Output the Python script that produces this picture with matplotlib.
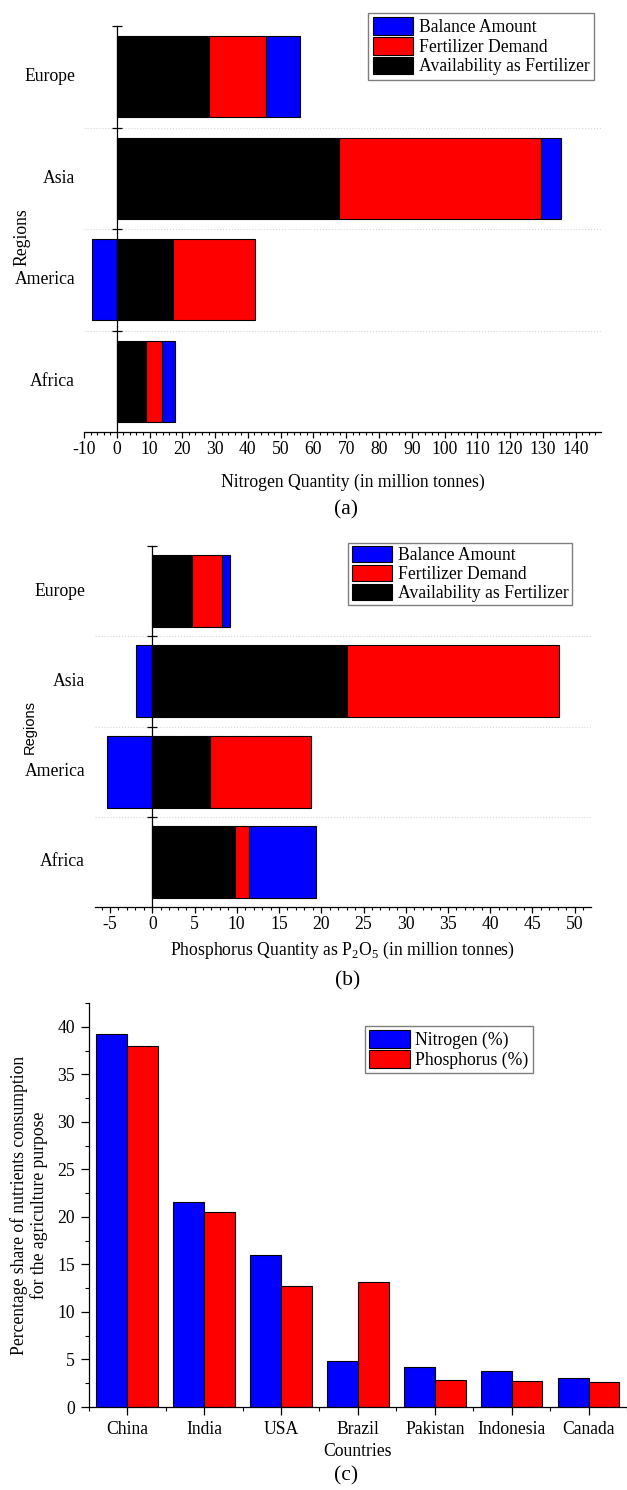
import numpy as np
import matplotlib
matplotlib.use('Agg')
import matplotlib.pyplot as plt
from matplotlib.ticker import MultipleLocator, FixedLocator, NullFormatter

plt.rcParams['font.family'] = 'Liberation Serif'
plt.rcParams['font.size'] = 12.7
plt.rcParams['axes.unicode_minus'] = False
plt.rcParams['mathtext.fontset'] = 'custom'
plt.rcParams['mathtext.rm'] = 'Liberation Serif'

# panel (a) and (b) data, listed top to bottom
regions = ['Europe', 'Asia', 'America', 'Africa']
n_avail = [28.0, 67.8, 17.3, 9.0]
n_demand = [17.4, 61.7, 24.9, 4.8]
n_balance = [10.5, 6.0, -7.7, 4.0]
p_avail = [4.7, 23.1, 6.8, 9.75]
p_demand = [3.5, 25.0, 12.0, 1.7]
p_balance = [1.0, -1.9, -5.3, 7.9]

# panel (c) data
countries = ['China', 'India', 'USA', 'Brazil', 'Pakistan', 'Indonesia', 'Canada']
nitrogen_pct = [39.2, 21.6, 16.0, 4.8, 4.2, 3.8, 3.1]
phosphorus_pct = [38.0, 20.5, 12.7, 13.2, 2.8, 2.7, 2.6]

W, H = 627, 1490


def box(left, top, right, bottom):
    return [left / W, 1 - bottom / H, (right - left) / W, (bottom - top) / H]


fig = plt.figure(figsize=(W / 100, H / 100), dpi=100)


def stacked(ax, avail, demand, balance, xlim, major, minor, label_x):
    avail = np.array(avail)
    demand = np.array(demand)
    balance = np.array(balance)
    y = np.arange(len(regions))[::-1]
    b1 = ax.barh(y, avail, height=0.8, color='black', edgecolor='black', linewidth=0.8,
                 label='Availability as Fertilizer')
    b2 = ax.barh(y, demand, left=avail, height=0.8, color='red', edgecolor='black',
                 linewidth=0.8, label='Fertilizer Demand')
    bal_left = np.where(balance > 0, avail + demand, 0)
    b3 = ax.barh(y, balance, left=bal_left, height=0.8, color='blue', edgecolor='black',
                 linewidth=0.8, label='Balance Amount')
    ax.set_xlim(*xlim)
    ax.set_ylim(-0.5, len(regions) - 0.5)
    for b in np.arange(0.5, len(regions) - 1, 1.0):
        ax.axhline(b, color='#d8d8d8', linestyle=':', linewidth=0.8, zorder=0)
    ax.spines['top'].set_visible(False)
    ax.spines['right'].set_visible(False)
    ax.spines['left'].set_position(('data', 0))
    for s in ['left', 'bottom']:
        ax.spines[s].set_linewidth(0.9)
    ax.xaxis.set_major_locator(MultipleLocator(major))
    ax.xaxis.set_minor_locator(MultipleLocator(minor))
    ax.tick_params(axis='x', which='major', direction='out', length=4.5, width=0.9, pad=2)
    ax.tick_params(axis='x', which='minor', direction='out', length=2.5, width=0.8)
    ax.yaxis.set_major_locator(FixedLocator(np.arange(0.5, len(regions), 1.0)))
    ax.yaxis.set_major_formatter(NullFormatter())
    ax.tick_params(axis='y', which='major', direction='inout', length=6.5, width=0.9)
    for yy, name in zip(y, regions):
        ax.text(label_x, yy, name, transform=ax.get_yaxis_transform(),
                ha='right', va='center')
    return [b3, b2, b1]


legend_style = dict(loc='upper right', borderaxespad=0, fancybox=False,
                    edgecolor='#7f7f7f', framealpha=1, handlelength=2.3,
                    handletextpad=0.3, labelspacing=0.05)

# (a) nitrogen
ax1 = fig.add_axes(box(84, 26, 601, 432))
h = stacked(ax1, n_avail, n_demand, n_balance, (-10, 147.7), 10, 2, -0.0174)
ax1.set_xlabel('Nitrogen Quantity (in million tonnes)')
ax1.xaxis.set_label_coords(0.52, -0.102)
ax1.set_ylabel('Regions')
ax1.yaxis.set_label_coords(-0.12, 0.48)
ax1.yaxis.label.set_va('center')
ax1.legend(handles=h, bbox_to_anchor=(0.986, 1.032), handleheight=1.15, borderpad=0.25,
           **legend_style)
fig.text(346 / W, 1 - 510 / H, '(a)', fontsize=15.5, ha='center', va='center')

# (b) phosphorus
ax2 = fig.add_axes(box(94.8, 546, 590.8, 907))
h = stacked(ax2, p_avail, p_demand, p_balance, (-6.8, 51.9), 5, 1, -0.0198)
ax2.set_xlabel('Phosphorus Quantity as P$_\\mathregular{2}$O$_\\mathregular{5}$ (in million tonnes)')
ax2.xaxis.set_label_coords(0.5, -0.092)
ax2.set_ylabel('Regions', family='Liberation Sans', fontsize=10.5)
ax2.yaxis.set_label_coords(-0.131, 0.5)
ax2.yaxis.label.set_va('center')
ax2.legend(handles=h, bbox_to_anchor=(0.962, 1.009), handleheight=1.0, borderpad=0.2,
           **legend_style)
fig.text(348 / W, 1 - 981 / H, '(b)', fontsize=15.5, ha='center', va='center')

# (c) percentage share
ax3 = fig.add_axes(box(88.8, 1003, 627, 1407))
x = np.arange(len(countries))
ax3.bar(x - 0.2, nitrogen_pct, width=0.4, color='blue', edgecolor='black', linewidth=0.8,
        label='Nitrogen (%)')
ax3.bar(x + 0.2, phosphorus_pct, width=0.4, color='red', edgecolor='black', linewidth=0.8,
        label='Phosphorus (%)')
ax3.set_xlim(-0.5, len(countries) - 0.5)
ax3.set_ylim(0, 42.5)
ax3.spines['top'].set_visible(False)
ax3.spines['right'].set_visible(False)
for s in ['left', 'bottom']:
    ax3.spines[s].set_linewidth(0.9)
ax3.set_xticks(x)
ax3.set_xticklabels(countries)
ax3.xaxis.set_minor_locator(FixedLocator(np.arange(-0.5, len(countries), 1.0)))
ax3.yaxis.set_major_locator(MultipleLocator(5))
ax3.yaxis.set_minor_locator(MultipleLocator(2.5))
ax3.tick_params(which='major', direction='out', length=6, width=0.9, pad=4)
ax3.tick_params(which='minor', direction='out', length=3.2, width=0.8)
ax3.set_xlabel('Countries', labelpad=3.5)
ax3.set_ylabel('Percentage share of nutrients consumption\nfor the agriculture purpose',
               linespacing=1.1)
ax3.yaxis.set_label_coords(-0.111, 0.5)
ax3.yaxis.label.set_va('center')
ax3.legend(bbox_to_anchor=(0.825, 0.943), handleheight=1.15, borderpad=0.25,
           **legend_style)
fig.text(346 / W, 1 - 1476 / H, '(c)', fontsize=15.5, ha='center', va='center')

fig.savefig('out.png', dpi=100)
